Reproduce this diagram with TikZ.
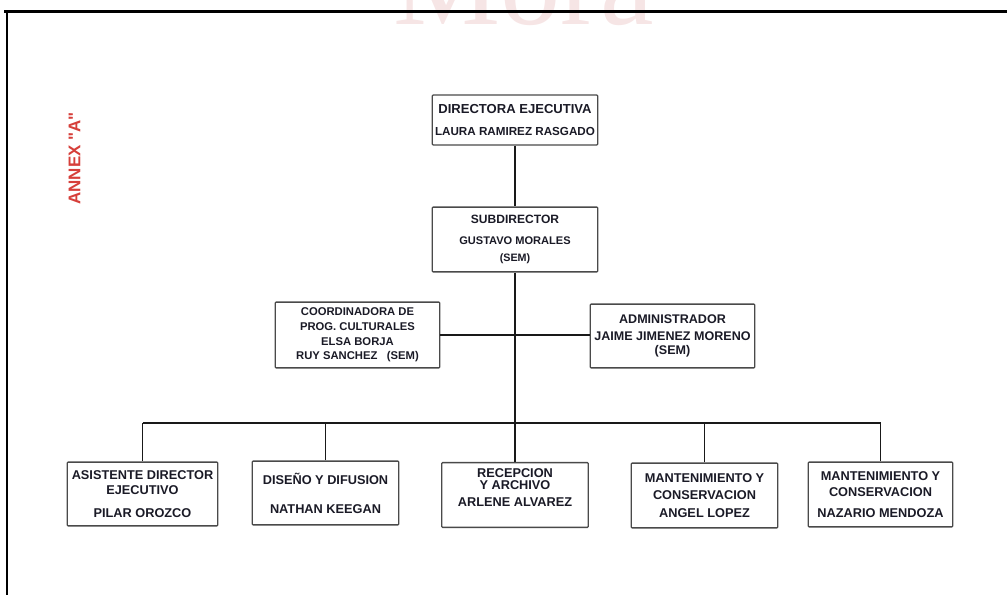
\documentclass[tikz,border=0pt]{standalone}
\usepackage{fontspec}
\setmainfont{Liberation Sans}
\newfontfamily\wmfont{Liberation Serif}

\definecolor{ink}{HTML}{1A1A26}
\definecolor{boxline}{HTML}{4A4A4A}
\definecolor{annexred}{HTML}{D63F3A}
\definecolor{wmpink}{HTML}{F6E5E5}

% per-line size change inside a box (spacing is set by the box font)
\newcommand\sz[1]{\fontsize{#1}{12}\selectfont}

\tikzset{
  orgbox/.style={draw=boxline, line width=1.3bp, rounded corners=0.8bp,
    inner sep=0pt, align=center, text=ink,
    font=\bfseries\fontsize{#1}{12}\selectfont},
  orgbox/.default=12.8,
  wire/.style={draw=black!90, line width=1.9bp},
  frameline/.style={draw=black, line width=2.4bp},
}

\begin{document}
\begin{tikzpicture}[x=1bp, y=-1bp]
\useasboundingbox (0,0) rectangle (1007,595);

% faint letterhead mark, cut by the top edge of the sheet
\begin{scope}
  \clip (0,0) rectangle (1007,595);
  \node[anchor=base west, inner sep=0pt, text=wmpink,
        font=\wmfont\fontsize{121}{121}\selectfont] (mark) at (393,25) {Mora};
\end{scope}

% sheet frame
\coordinate (ftl) at (6.5,11.5);
\coordinate (ftr) at (1007,11.5);
\coordinate (fbl) at (6.5,595);
\draw[frameline] (4,11.5) -- (ftr);
\draw[frameline, line width=2bp] (ftl) -- (fbl);

% annex tag
\node[rotate=90, inner sep=0pt, text=annexred,
      font=\bfseries\fontsize{17}{17}\selectfont] (annex) at (74.5,158.5)
  {ANNEX \textquotedbl A\textquotedbl};

% management
\node[orgbox=13.1, minimum width=166, minimum height=50] (dir) at (515,120)
  {DIRECTORA EJECUTIVA\\[9.5pt]\sz{11.7}LAURA RAMIREZ RASGADO};
\node[orgbox=12.1, minimum width=166, minimum height=65] (sub) at (515,239.5)
  {SUBDIRECTOR\\[8.7pt]\sz{11.1}GUSTAVO MORALES\\[4.9pt]\sz{10.8}(SEM)};

% staff attached to the subdirector
\node[orgbox=11.3, minimum width=165, minimum height=66] (coord) at (357.5,335)
  {COORDINADORA DE\\[2.7pt]PROG. CULTURALES\\[2.7pt]ELSA BORJA\\[2.7pt]RUY SANCHEZ~~~(SEM)};
\node[orgbox=12.6, minimum width=165, minimum height=64] (adm) at (672.5,336)
  {ADMINISTRADOR\\[5pt]JAIME JIMENEZ MORENO\\[2pt](SEM)};

% operating units
\node[orgbox, minimum width=151, minimum height=64] (u1) at (142.5,494)
  {ASISTENTE DIRECTOR\\[3pt]EJECUTIVO\\[11pt]PILAR OROZCO};
\node[orgbox, minimum width=147, minimum height=64] (u2) at (325.5,493)
  {DISEÑO Y DIFUSION\\[17pt]NATHAN KEEGAN};
\node[orgbox, minimum width=147, minimum height=65] (u3) at (515,495)
  {RECEPCION\\Y ARCHIVO\\[5pt]ARLENE ALVAREZ\\[3pt]\mbox{}};
\node[orgbox, minimum width=147, minimum height=65] (u4) at (704.5,495.5)
  {MANTENIMIENTO Y\\[5pt]CONSERVACION\\[6pt]ANGEL LOPEZ};
\node[orgbox, minimum width=145, minimum height=65] (u5) at (880.5,494.5)
  {MANTENIMIENTO Y\\[4pt]CONSERVACION\\[9pt]NAZARIO MENDOZA};

% reporting lines
\coordinate (hub) at (515,423);
\coordinate (busL) at (142.5,423);
\coordinate (busR) at (880.5,423);
\draw[wire] (dir.south) -- (sub.north);
\draw[wire] (sub.south) -- (hub);
\draw[wire] (coord.east) -- (coord.east -| adm.west);
\draw[wire] (busL) -- (busR);
\foreach \u in {u1,u2,u3,u4,u5}
  \draw[wire] (\u.north) -- (\u.north |- hub);
\end{tikzpicture}
\end{document}
